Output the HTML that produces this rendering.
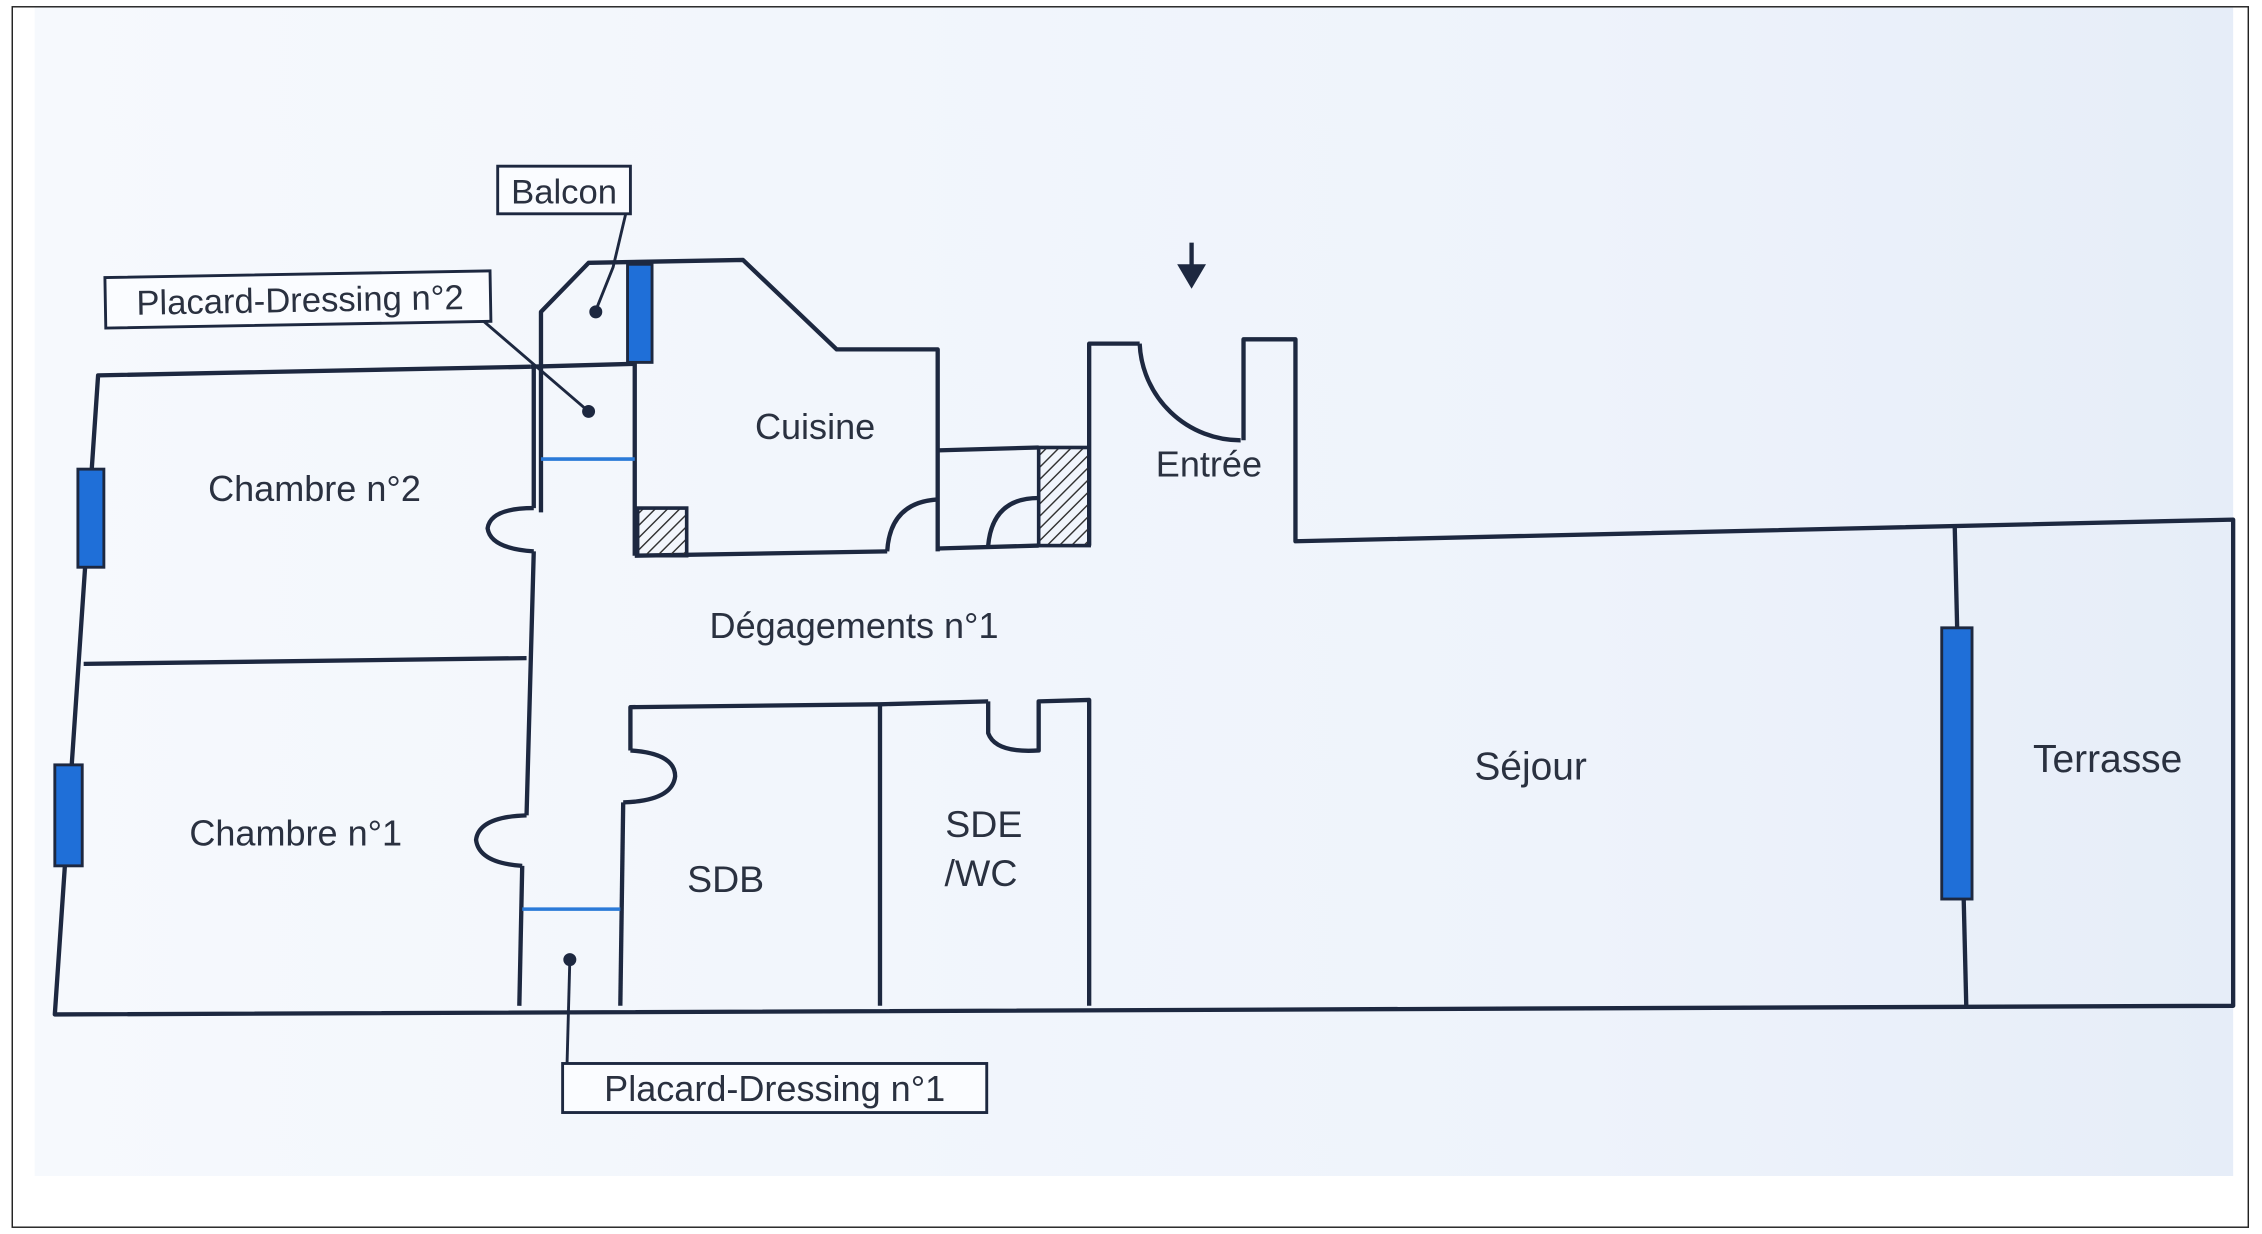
<!DOCTYPE html>
<html><head><meta charset="utf-8"><style>
html,body{margin:0;padding:0;background:#fff}
svg{display:block}
text{font-family:"Liberation Sans",sans-serif;fill:#2a3140}
</style></head><body>
<svg width="2262" height="1234" viewBox="0 0 1568 855" xmlns="http://www.w3.org/2000/svg">
<defs>
<linearGradient id="bg" x1="0" y1="0" x2="1" y2="0">
<stop offset="0" stop-color="#f6f9fd"/><stop offset="0.7" stop-color="#eef3fb"/><stop offset="1" stop-color="#e6edf8"/>
</linearGradient>
<pattern id="h" width="6" height="6" patternUnits="userSpaceOnUse" patternTransform="rotate(45)">
<line x1="0" y1="0" x2="0" y2="6" stroke="#333" stroke-width="2"/>
</pattern>
</defs>
<rect x="0" y="0" width="1568" height="855" fill="#fff"/>
<rect x="24" y="5" width="1524" height="810" fill="url(#bg)"/>
<rect x="8.5" y="4.5" width="1550" height="846" fill="none" stroke="#222" stroke-width="1"/>
<g fill="none" stroke="#1d2840" stroke-width="3" stroke-linejoin="round">
<!-- outer left, top chambres -->
<polyline points="368,254 68,260 38,703 1548,697 1548,360 898,375 898,235 862,235 862,305"/>
<path d="M860,305 A70,70 0 0 1 790,238"/>
<polyline points="790,238 755,238 755,378"/>
<line x1="58" y1="460" x2="365" y2="456"/>
<!-- chambre right wall with doors -->
<polyline points="370,254 370,352"/>
<path d="M370,352 Q340,352 338,366 Q340,380 370,382"/>
<polyline points="370,382 368,455 365,565"/>
<path d="M365,565 Q332,566 330,582 Q332,598 362,600"/>
<polyline points="362,600 360,697"/>
<!-- placard/balcon -->
<polyline points="375,355 375,216 408,182 515,180 580,242 650,242 650,382"/>
<line x1="368" y1="254" x2="440" y2="252"/>
<line x1="440" y1="182" x2="440" y2="385"/>
<polyline points="440,385 615,382"/>
<path d="M615,382 Q617,348 650,346"/>
<polyline points="650,380 720,378"/>
<polyline points="650,312 720,310"/>
<path d="M720,345 Q688,345 685,378"/>
<!-- SDB -->
<polyline points="437,520 437,490 610,488 685,486"/>
<path d="M437,520 Q468,522 468,538 Q466,555 432,556"/>
<polyline points="432,556 430,697"/>
<line x1="610" y1="488" x2="610" y2="697"/>
<path d="M685,486 L685,508 Q690,522 720,520 L720,486 L755,485 L755,697"/>
<line x1="1355" y1="365" x2="1363" y2="697"/>
</g>
<!-- hatched -->
<rect x="442" y="352" width="34" height="33" fill="url(#h)" stroke="#1d2840" stroke-width="2.5"/>
<rect x="720" y="310" width="35" height="68" fill="url(#h)" stroke="#1d2840" stroke-width="2.5"/>
<!-- blue -->
<g fill="#1f6fd8" stroke="#1d2840" stroke-width="2">
<rect x="435" y="183" width="17" height="68"/>
<rect x="54" y="325" width="18" height="68"/>
<rect x="38" y="530" width="19" height="70"/>
<rect x="1346" y="435" width="21" height="188"/>
</g>
<g stroke="#2a7ad8" stroke-width="2.5">
<line x1="375" y1="318" x2="440" y2="318"/>
<line x1="362" y1="630" x2="430" y2="630"/>
</g>
<!-- label leaders -->
<g stroke="#1d2840" stroke-width="2" fill="#1d2840">
<polyline points="434,147 425,185 413,215" fill="none"/>
<circle cx="413" cy="216" r="3.5"/>
<polyline points="330,218 408,285" fill="none"/>
<circle cx="408" cy="285" r="3.5"/>
<polyline points="395,665 393,740" fill="none"/>
<circle cx="395" cy="665" r="3.5"/>
</g>
<g fill="#fafcff" stroke="#1d2840" stroke-width="2">
<rect x="345" y="115" width="92" height="33"/>
<rect x="73" y="190" width="267" height="35" transform="rotate(-1 200 207)"/>
<rect x="390" y="737" width="294" height="34"/>
</g>
<text x="391" y="141" font-size="24" text-anchor="middle">Balcon</text>
<text x="208" y="216" font-size="24" text-anchor="middle" transform="rotate(-1 208 208)">Placard-Dressing n°2</text>
<text x="537" y="763" font-size="25" text-anchor="middle">Placard-Dressing n°1</text>
<text x="565" y="304" font-size="25" text-anchor="middle">Cuisine</text>
<text x="838" y="330" font-size="25" text-anchor="middle">Entrée</text>
<text x="218" y="347" font-size="25" text-anchor="middle">Chambre n°2</text>
<text x="205" y="586" font-size="25" text-anchor="middle">Chambre n°1</text>
<text x="592" y="442" font-size="25" text-anchor="middle">Dégagements n°1</text>
<text x="503" y="618" font-size="26" text-anchor="middle">SDB</text>
<text x="682" y="580" font-size="26" text-anchor="middle">SDE</text>
<text x="680" y="614" font-size="26" text-anchor="middle">/WC</text>
<text x="1061" y="540" font-size="27" text-anchor="middle">Séjour</text>
<text x="1461" y="535" font-size="27" text-anchor="middle">Terrasse</text>
<!-- entry arrow -->
<line x1="826" y1="168" x2="826" y2="186" stroke="#1d2840" stroke-width="3"/>
<polygon points="816,183 836,183 826,200" fill="#1d2840"/>
</svg>
</body></html>
